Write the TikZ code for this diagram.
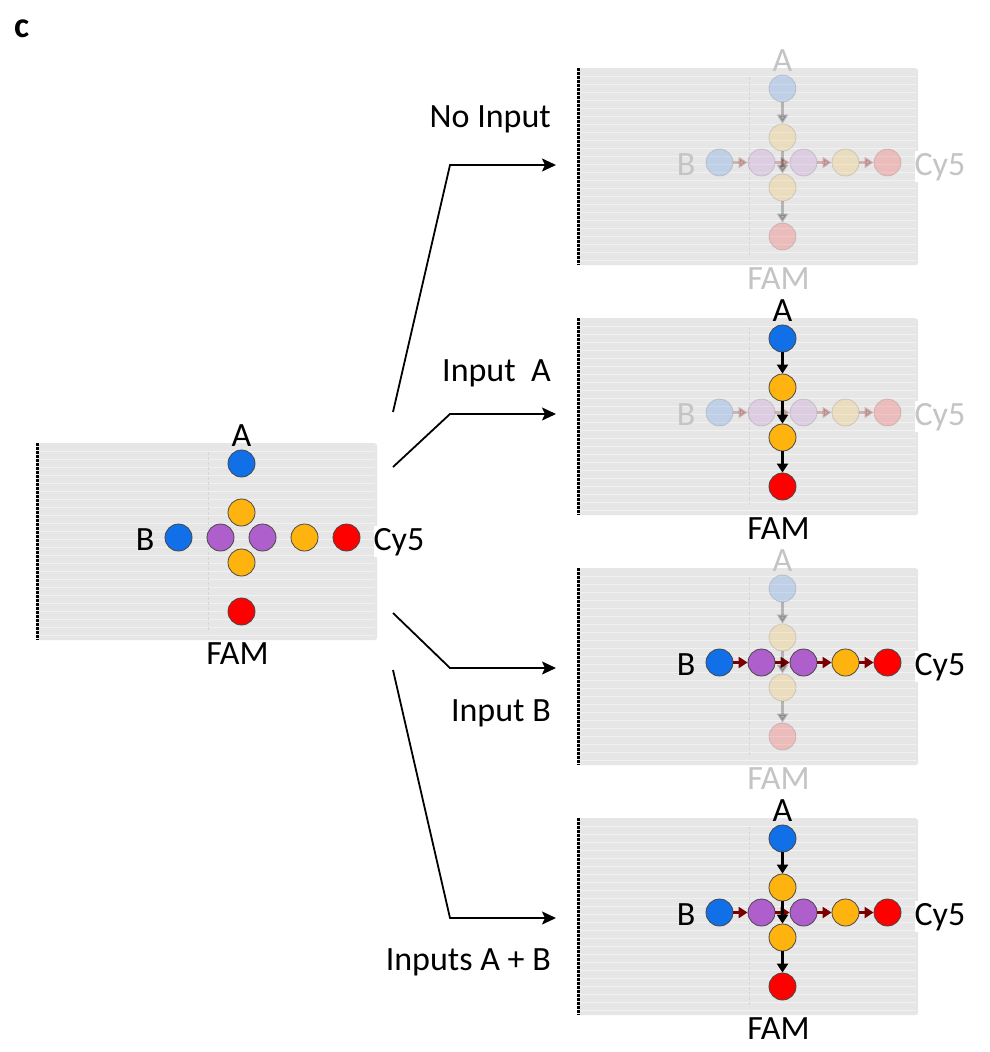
\documentclass[tikz,border=0pt]{standalone}
\usepackage{fontspec}
\setmainfont{Carlito}
\usetikzlibrary{arrows.meta,calc}
\definecolor{cblue}{HTML}{1170E8}
\definecolor{corange}{HTML}{FFB30F}
\definecolor{cpurple}{HTML}{AF5FCB}
\definecolor{cred}{HTML}{FF0000}
\definecolor{cmaroon}{HTML}{7A0000}
\definecolor{panelgray}{HTML}{E6E6E6}
\definecolor{fadetext}{HTML}{C4C4C4}
\tikzset{
  panel/.style={fill=panelgray, rounded corners=3pt, minimum width=340pt, minimum height=197pt, inner sep=0pt, anchor=north west},
  stripe/.style={draw=white, opacity=0.45, line width=1pt},
  innerdash/.style={draw=black!16, line width=0.8pt, dash pattern=on 3pt off 2pt},
  edgedash/.style={draw=black, line width=3pt, dash pattern=on 3pt off 1pt},
  dot/.style={circle, minimum size=27pt, inner sep=0pt, draw=black!72, line width=0.8pt},
  varr/.style={line width=2.2pt, draw=black, -{Triangle[length=9pt,width=11pt]}},
  harr/.style={line width=2.2pt, draw=cmaroon, -{Triangle[length=9pt,width=11pt]}},
  mainarr/.style={line width=1.8pt, draw=black, -{Stealth[length=14pt,width=13pt,inset=3pt]}},
  lab/.style={font=\fontsize{34}{40}\selectfont, inner sep=0pt},
}
\newcommand\panelbg[3]{% name, x0, y0
  \node[panel] (#1bg) at (#2,#3) {};
  \foreach \k in {1,...,24} \draw[stripe] (#2,{#3+8*\k}) -- ({#2+338},{#3+8*\k});
  \draw[innerdash] ({#2+171},{#3+9}) -- ({#2+171},{#3+189});
  \draw[edgedash] (#1bg.north west) -- (#1bg.south west);
}
\newcommand\panelnodes[7]{% name, x0, y0, vop, hop, vcol, hcol
  \coordinate (#1c) at ({#2+204.5},{#3+94.5});
  \node[dot, fill=cblue, opacity=#4] (#1A) at ($(#1c)+(0,-74)$) {};
  \node[dot, fill=corange, opacity=#4] (#1O1) at ($(#1c)+(0,-25)$) {};
  \node[dot, fill=corange, opacity=#4] (#1O2) at ($(#1c)+(0,25)$) {};
  \node[dot, fill=cred, opacity=#4] (#1F) at ($(#1c)+(0,74)$) {};
  \node[dot, fill=cblue, opacity=#5] (#1B) at ($(#1c)+(-63,0)$) {};
  \node[dot, fill=cpurple, opacity=#5] (#1P1) at ($(#1c)+(-21,0)$) {};
  \node[dot, fill=cpurple, opacity=#5] (#1P2) at ($(#1c)+(21,0)$) {};
  \node[dot, fill=corange, opacity=#5] (#1O3) at ($(#1c)+(63,0)$) {};
  \node[dot, fill=cred, opacity=#5] (#1R) at ($(#1c)+(105,0)$) {};
  \node[lab, text=#6, anchor=base] (#1Al) at ($(#1A.north)+(0,-3)$) {A};
  \node[lab, text=#6, anchor=base] (#1Fl) at ({#2+200.5},{#3+221}) {FAM};
  \node[lab, text=#7, anchor=base east] (#1Bl) at ($(#1B.west)+(-10,12.5)$) {B};
  \node[lab, text=#7, anchor=base west, fill=white, inner ysep=2pt] (#1Cl) at ($(#1R.east)+(13,12.5)$) {Cy5};
}
\newcommand\panelarrows[3]{% name, vop, hop
  \draw[harr, opacity=#3] (#1B) -- (#1P1);
  \draw[harr, opacity=#3] (#1P1) -- (#1P2);
  \draw[harr, opacity=#3] (#1P2) -- (#1O3);
  \draw[harr, opacity=#3] (#1O3) -- (#1R);
  \draw[varr, opacity=#2] (#1A) -- (#1O1);
  \draw[varr, opacity=#2] (#1O1) -- (#1O2);
  \draw[varr, opacity=#2] (#1O2) -- (#1F);
}
\begin{document}
\begin{tikzpicture}[x=1pt,y=-1pt]
\useasboundingbox[fill=white] (0,0) rectangle (990,1052);
\node[font=\bfseries\fontsize{36}{40}\selectfont, anchor=base west, inner sep=0pt] (clabel) at (14,37) {c};
% left panel
\panelbg{L}{37}{443}
\panelnodes{L}{37}{443}{1}{1}{black}{black}
% right panels
\panelbg{p}{578}{68}
\panelnodes{p}{578}{68}{0.18}{0.18}{fadetext}{fadetext}
\panelarrows{p}{0.22}{0.22}
\panelbg{q}{578}{318}
\panelnodes{q}{578}{318}{1}{0.18}{black}{fadetext}
\panelarrows{q}{1}{0.22}
\panelbg{r}{578}{568}
\panelnodes{r}{578}{568}{0.18}{1}{fadetext}{black}
\panelarrows{r}{0.22}{1}
\panelbg{s}{578}{818}
\panelnodes{s}{578}{818}{1}{1}{black}{black}
\panelarrows{s}{1}{1}
% main connectors
\coordinate (s1) at (393,412); \coordinate (k1) at (450,165); \coordinate (t1) at (556,165);
\coordinate (s2) at (393,467); \coordinate (k2) at (450,414); \coordinate (t2) at (556,414);
\coordinate (s3) at (393,613); \coordinate (k3) at (450,668); \coordinate (t3) at (556,668);
\coordinate (s4) at (393,670); \coordinate (k4) at (450,918); \coordinate (t4) at (556,918);
\draw[mainarr] (s1) -- (k1) -- (t1);
\draw[mainarr] (s2) -- (k2) -- (t2);
\draw[mainarr] (s3) -- (k3) -- (t3);
\draw[mainarr] (s4) -- (k4) -- (t4);
\node[lab, anchor=base east] (l1) at (551,127) {No Input};
\node[lab, anchor=base east] (l2) at (551,381) {Input\ \ A};
\node[lab, anchor=base east] (l3) at (551,721) {Input B};
\node[lab, anchor=base east] (l4) at (551,970) {Inputs A + B};
\end{tikzpicture}
\end{document}
